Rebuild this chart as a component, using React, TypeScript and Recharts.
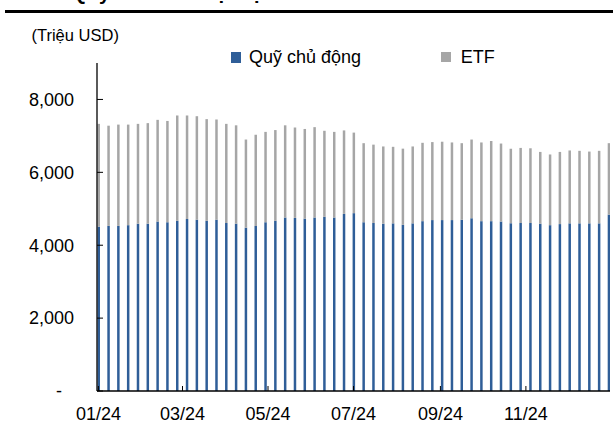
import React from 'react';
import { BarChart, Bar, XAxis, YAxis } from 'recharts';

// Day of year (2024) of each weekly observation
const weekDays = [
  0, 7, 14, 21, 28, 35, 42, 49, 56, 63, 70, 77, 84, 91, 98, 105, 112, 119, 126, 133,
  140, 147, 154, 161, 168, 175, 182, 189, 196, 203, 210, 217, 224, 231, 238, 245, 252,
  259, 266, 273, 280, 287, 294, 301, 308, 315, 322, 329, 336, 343, 350, 357, 364,
];

// Quỹ chủ động (Triệu USD)
const activeFund = [
  4510, 4530, 4530, 4550, 4590, 4590, 4650, 4630, 4670, 4720,
  4700, 4670, 4700, 4610, 4590, 4480, 4530, 4630, 4670, 4760,
  4750, 4730, 4760, 4780, 4760, 4860, 4880, 4630, 4610, 4590,
  4600, 4560, 4600, 4660, 4690, 4690, 4690, 4700, 4740, 4660,
  4660, 4650, 4600, 4610, 4610, 4590, 4550, 4580, 4600, 4600,
  4600, 4600, 4840,
];

// ETF (Triệu USD)
const etf = [
  2820, 2750, 2780, 2760, 2740, 2760, 2790, 2780, 2890, 2840,
  2840, 2790, 2750, 2720, 2700, 2420, 2500, 2480, 2490, 2530,
  2480, 2460, 2480, 2360, 2350, 2290, 2210, 2170, 2150, 2120,
  2100, 2090, 2110, 2150, 2140, 2150, 2130, 2100, 2160, 2160,
  2200, 2140, 2050, 2060, 2050, 1970, 1940, 1980, 2000, 1990,
  1970, 1990, 1960,
];

const monthTickDays = [0, 60, 121, 182, 244, 305];
const monthTickLabels = ['01/24', '03/24', '05/24', '07/24', '09/24', '11/24'];
const yTicks = [0, 2000, 4000, 6000, 8000];

const data = weekDays.map((d, i) => ({ day: d, active: activeFund[i], etf: etf[i] }));

const FONT = "'Liberation Sans', Arial, sans-serif";
const BLUE = '#2F5E98';
const GRAY = '#A6A6A6';

const YTick = (props: any) => {
  const { x, y, payload } = props;
  const isZero = payload.value === 0;
  return (
    <text
      x={isZero ? x - 12 : x}
      y={y}
      dy="0.35em"
      textAnchor="end"
      fontSize={18}
      fontFamily={FONT}
      fill="#000"
    >
      {isZero ? '-' : Number(payload.value).toLocaleString('en-US')}
    </text>
  );
};

export default function App() {
  return (
    <div style={{ position: 'absolute', left: 0, top: 0, width: 613, height: 423, background: '#fff', overflow: 'hidden' }}>
      <svg width={613} height={10} style={{ position: 'absolute', left: 0, top: 0 }}>
        <text x={-2} y={-0.5} fontSize={20} fontWeight="bold" fontFamily={FONT} fill="#000">
          Hình 5: Quy mô NAV hiện tại
        </text>
      </svg>
      <div style={{ position: 'absolute', left: 5, top: 10, width: 608, height: 2.5, background: '#000' }} />
      <div
        style={{
          position: 'absolute',
          left: 31.5,
          top: 24.5,
          fontFamily: FONT,
          fontSize: 16.5,
          lineHeight: '21px',
          whiteSpace: 'nowrap',
        }}
      >
        (Triệu USD)
      </div>
      <div style={{ position: 'absolute', left: 230, top: 47, width: 300, height: 24, fontFamily: FONT, fontSize: 18 }}>
        <div style={{ position: 'absolute', left: 0.7, top: 5.3, width: 10.6, height: 11, background: BLUE }} />
        <div style={{ position: 'absolute', left: 19, top: 0, lineHeight: '21px', whiteSpace: 'nowrap' }}>Quỹ chủ động</div>
        <div style={{ position: 'absolute', left: 210.7, top: 5.3, width: 10, height: 10, background: GRAY }} />
        <div style={{ position: 'absolute', left: 230.7, top: 0, lineHeight: '21px' }}>ETF</div>
      </div>
      <div style={{ position: 'absolute', left: 0, top: 0 }}>
        <BarChart
          width={613}
          height={423}
          data={data}
          margin={{ top: 63, right: 3, bottom: 2, left: 0 }}
          barGap={0}
        >
          <XAxis
            dataKey="day"
            type="number"
            domain={[-1, 365]}
            ticks={monthTickDays}
            tickFormatter={(v: number) => monthTickLabels[monthTickDays.indexOf(v)] ?? ''}
            axisLine={{ stroke: '#000', strokeWidth: 1.3 }}
            tickLine={{ stroke: '#000' }}
            tickSize={-5}
            tickMargin={21}
            height={30}
            interval={0}
            allowDataOverflow
            tick={{ fontSize: 18, fill: '#000', fontFamily: FONT }}
          />
          <YAxis
            type="number"
            domain={[0, 9000]}
            ticks={yTicks}
            width={97}
            axisLine={{ stroke: '#000', strokeWidth: 1.3 }}
            tickLine={{ stroke: '#000' }}
            tickSize={-6}
            tickMargin={29}
            interval={0}
            tick={<YTick />}
          />
          <Bar dataKey="active" name="Quỹ chủ động" stackId="s" fill={BLUE} barSize={2.5} isAnimationActive={false} />
          <Bar dataKey="etf" name="ETF" stackId="s" fill={GRAY} barSize={2.5} isAnimationActive={false} />
        </BarChart>
      </div>
    </div>
  );
}
